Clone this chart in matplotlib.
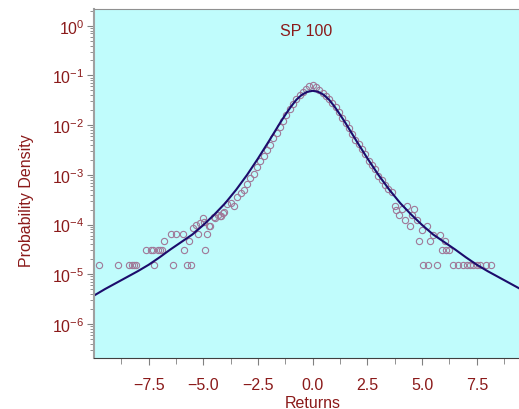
import numpy as np
import matplotlib
matplotlib.use('Agg')
import matplotlib.pyplot as plt
from matplotlib.ticker import NullFormatter, FixedLocator, LogFormatterSciNotation

plt.rcParams['font.family'] = ['Liberation Sans', 'DejaVu Sans']

# fitted curve, x in returns, log10 of density
curve_x = [-10.0, -9.5, -9.0, -8.5, -8.0, -7.5, -7.0, -6.5, -6.0, -5.5, -5.0, -4.5, -4.0,
           -3.5, -3.0, -2.5, -2.0, -1.75, -1.5, -1.25, -1.0, -0.75, -0.5, -0.25, 0.0,
           0.25, 0.5, 0.75, 1.0, 1.25, 1.5, 1.75, 2.0, 2.5, 3.0, 3.5, 4.0, 4.5, 5.0,
           5.5, 6.0, 6.5, 7.0, 7.5, 8.0, 8.5, 9.0, 9.5, 10.0]
curve_log = [-5.43, -5.30, -5.18, -5.06, -4.94, -4.81, -4.66, -4.50, -4.35, -4.20, -4.01, -3.80, -3.57,
             -3.30, -3.00, -2.67, -2.32, -2.14, -1.96, -1.79, -1.63, -1.49, -1.39, -1.33, -1.31,
             -1.33, -1.39, -1.49, -1.63, -1.79, -1.96, -2.14, -2.32, -2.67, -3.00, -3.30, -3.57, -3.80, -4.01,
             -4.20, -4.35, -4.50, -4.66, -4.81, -4.94, -5.06, -5.18, -5.30, -5.43]

# empirical density points, log10 of density
pts_x = [-4.50, -4.35, -4.20, -4.05, -3.90, -3.75, -3.60, -3.45, -3.30, -3.15, -3.00, -2.85,
         -2.70, -2.55, -2.40, -2.25, -2.10, -1.95, -1.80, -1.65, -1.50, -1.35, -1.20, -1.05,
         -0.90, -0.75, -0.60, -0.45, -0.30, -0.15, 0.00, 0.15, 0.30, 0.45, 0.60, 0.75, 0.90,
         1.05, 1.20, 1.35, 1.50, 1.65, 1.80, 1.95, 2.10, 2.25, 2.40, 2.55, 2.70, 2.85, 3.00,
         3.15, 3.30, 3.45, 3.60, 3.75,
         # right tail
         3.81, 3.96, 4.10, 4.22, 4.32, 4.45, 4.52, 4.64, 4.75, 4.87, 4.98, 5.21, 5.36, 5.51,
         5.82, 5.90, 6.05, 6.09, 6.23,
         5.06, 5.28, 5.69, 6.43, 6.65, 6.85, 7.04, 7.19, 7.34, 7.52, 7.65, 7.92, 8.14,
         # left tail
         -9.75, -8.88, -8.38, -8.27, -8.18, -8.09, -7.24, -6.37, -5.76, -5.56,
         -7.63, -7.40, -7.31, -7.08, -6.98, -6.90, -5.87, -4.91,
         -6.78, -5.65, -6.49, -6.25, -5.94, -5.23, -4.83,
         -5.48, -5.33, -5.15, -5.03, -4.97, -4.75, -4.69, -4.47, -4.24, -4.09]
pts_log = [-3.85, -3.80, -3.82, -3.75, -3.58, -3.56, -3.62, -3.45, -3.36, -3.30, -3.18, -3.07,
           -2.98, -2.84, -2.72, -2.62, -2.50, -2.40, -2.26, -2.15, -2.04, -1.92, -1.80, -1.68,
           -1.58, -1.48, -1.40, -1.33, -1.27, -1.22, -1.19, -1.24, -1.29, -1.35, -1.41, -1.47, -1.55,
           -1.64, -1.74, -1.85, -1.95, -2.06, -2.17, -2.29, -2.37, -2.49, -2.58, -2.72, -2.80, -2.89, -3.02,
           -3.10, -3.20, -3.29, -3.34, -3.62,
           -3.70, -3.81, -3.69, -3.91, -3.62, -4.02, -3.81, -3.69, -3.91, -4.33, -4.11, -4.02, -4.33, -4.21,
           -4.21, -4.51, -4.33, -4.51, -4.51,
           -4.81, -4.81, -4.81, -4.81, -4.81, -4.81, -4.81, -4.81, -4.81, -4.81, -4.81, -4.81, -4.81,
           -4.81, -4.81, -4.81, -4.81, -4.81, -4.81, -4.81, -4.81, -4.81, -4.81,
           -4.51, -4.51, -4.51, -4.51, -4.51, -4.51, -4.51, -4.51,
           -4.33, -4.33, -4.20, -4.20, -4.20, -4.20, -4.20,
           -4.08, -4.01, -3.96, -3.86, -3.94, -4.02, -4.02, -3.87, -3.82, -3.77]

xticks = [-7.5, -5.0, -2.5, 0.0, 2.5, 5.0, 7.5]
xminor = [-8.75, -6.25, -3.75, -1.25, 1.25, 3.75, 6.25, 8.75]
ydecades = [1e-6, 1e-5, 1e-4, 1e-3, 1e-2, 1e-1, 1e0]

red = '#8b1a1a'
fig = plt.figure(figsize=(5.19, 4.10), dpi=100)
ax = fig.add_axes([0.1811, 0.1244, 0.843, 0.8512])
ax.set_facecolor('#c0fcfc')

ax.plot(pts_x, 10.0 ** np.array(pts_log), 'o', mfc='none', mec='#a07898', ms=4.5, mew=0.8)
ax.plot(curve_x, 10.0 ** np.array(curve_log), color='#1c0c6c', lw=1.5)

ax.set_yscale('log')
ax.set_xlim(-10, 10)
ax.set_ylim(2.06e-7, 2.17)

# minor ticks 2..9 of every decade inside the view
yminor = [m * d for d in [1e-7] + ydecades for m in range(2, 10)]
yminor = [v for v in yminor if 2.06e-7 <= v <= 2.17]
ax.yaxis.set_major_locator(FixedLocator(ydecades))
ax.yaxis.set_major_formatter(LogFormatterSciNotation())
ax.yaxis.set_minor_locator(FixedLocator(yminor))
ax.yaxis.set_minor_formatter(NullFormatter())
ax.xaxis.set_major_locator(FixedLocator(xticks))
ax.xaxis.set_minor_locator(FixedLocator(xminor))
ax.xaxis.set_minor_formatter(NullFormatter())

ax.tick_params(axis='both', which='both', direction='out', color='#808080', labelcolor=red, labelsize=11.5)
ax.tick_params(axis='x', which='major', length=5, pad=8.5)
ax.tick_params(axis='x', which='minor', length=4)
ax.tick_params(axis='y', which='major', length=5, pad=2)
ax.tick_params(axis='y', which='minor', length=3)

ax.spines['right'].set_visible(False)
ax.spines['top'].set_color('#909090')
ax.spines['left'].set_color('#a0a0a0')
ax.spines['left'].set_linewidth(1.5)
ax.spines['bottom'].set_color('#404040')

ax.set_xlabel('Returns', color=red, fontsize=11.5)
ax.xaxis.set_label_coords(0.5, -0.105)
ax.set_ylabel('Probability Density', color=red, fontsize=11.5)
ax.yaxis.set_label_coords(-0.137, 0.454)
ax.text(0.485, 0.937, 'SP 100', transform=ax.transAxes, ha='center', va='center',
        color=red, fontsize=11.5)

fig.savefig('out.png', dpi=100)
